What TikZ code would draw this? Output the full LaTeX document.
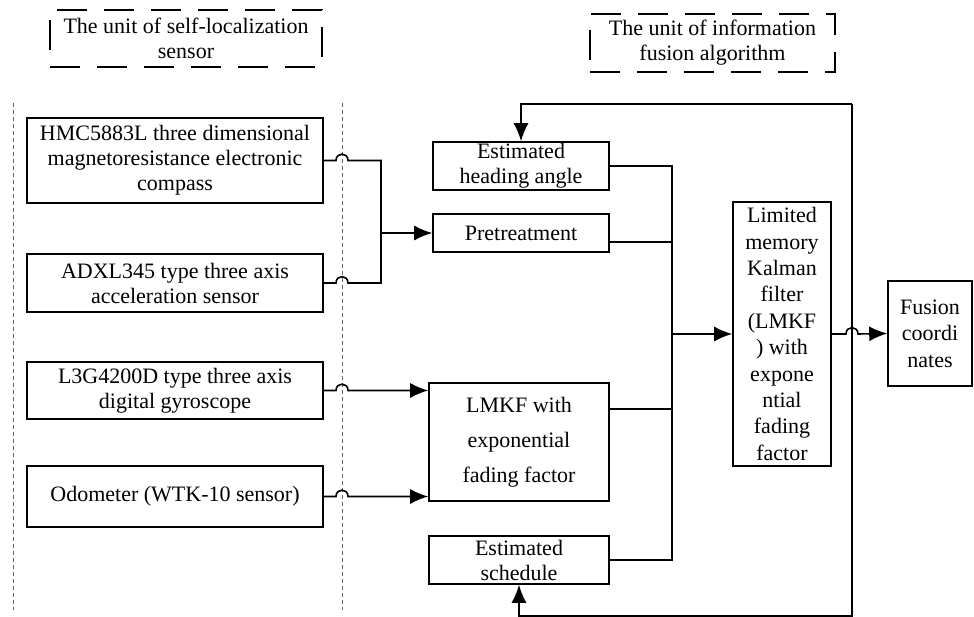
\documentclass[tikz,border=0pt]{standalone}
\usepackage{fontspec}
\setmainfont{Liberation Serif}
\usetikzlibrary{arrows.meta}
\begin{document}
\begin{tikzpicture}[x=1pt,y=-1pt,
  blk/.style={draw,line width=1.6pt,align=center,inner sep=0pt,font=\fontsize{22}{25}\selectfont},
  unit/.style={blk,line width=1.8pt,dash pattern=on 30pt off 17pt},
  lnk/.style={line width=1.6pt},
  arr/.style={lnk,-{Latex[length=18pt,width=15pt]}},
  sep/.style={gray!80!black,line width=1pt,dash pattern=on 4pt off 3pt}]
\useasboundingbox (0,0) rectangle (974,617);
%units
\node[unit,minimum width=272,minimum height=57](selfunit) at (186,38.5){The unit of self-localization\\sensor};
\node[unit,minimum width=245,minimum height=58](fusunit) at (712.5,43){The unit of information\\fusion algorithm};
\draw[sep](13,103)--(13,610);
\draw[sep](342,103)--(342,610);
%sensors
\node[blk,minimum width=296,minimum height=85](hmc) at (175,160.5){HMC5883L three dimensional\\magnetoresistance electronic\\compass};
\node[blk,minimum width=296,minimum height=58](adxl) at (175,283){ADXL345 type three axis\\acceleration sensor};
\node[blk,minimum width=296,minimum height=57](gyro) at (175,390.5){L3G4200D type three axis\\digital gyroscope};
\node[blk,minimum width=296,minimum height=61](odo) at (175,496.5){Odometer (WTK-10 sensor)};
%algorithm
\node[blk,minimum width=176,minimum height=48](head) at (521,166){Estimated\\heading angle};
\node[blk,minimum width=176,minimum height=38](pre) at (521,233){Pretreatment};
\node[blk,minimum width=180,minimum height=118,font=\fontsize{22}{35}\selectfont](lmkf) at (519,442){LMKF with\\exponential\\fading factor};
\node[blk,minimum width=180,minimum height=48](sched) at (519,560){Estimated\\schedule};
\node[blk,minimum width=98,minimum height=264,font=\fontsize{22}{26.4}\selectfont](kf) at (782,334){Limited\\memory\\Kalman\\filter\\(LMKF\\) with\\expone\\ntial\\fading\\factor};
\node[blk,minimum width=84,minimum height=105,font=\fontsize{22}{26.5}\selectfont](fusion) at (930,333.5){Fusion\\coordi\\nates};
\coordinate(jn) at (381,233);
\coordinate(bus) at (672,334);
\coordinate(fbTop) at (852,104);
\coordinate(fbBot) at (852,616);
%sensor links, hop over the separator
\draw[lnk](hmc.east)--(336,160.5) .. controls (336,152) and (348,152) .. (348,160.5)-|(jn);
\draw[lnk](adxl.east)--(336,283) .. controls (336,274.5) and (348,274.5) .. (348,283)-|(jn);
\draw[arr](jn)--(pre.west);
\draw[arr](gyro.east)--(336,390.5) .. controls (336,382) and (348,382) .. (348,390.5)--(lmkf.west|-gyro.east);
\draw[arr](odo.east)--(336,496.5) .. controls (336,488) and (348,488) .. (348,496.5)--(lmkf.west|-odo.east);
%bus
\draw[lnk](head.east)-|(bus)|-(sched.east);
\draw[lnk]([yshift=-9pt]pre.east)--([yshift=-9pt]pre.east-|bus);
\draw[lnk]([yshift=-27pt]lmkf.north east)--([yshift=-27pt]lmkf.north east-|bus);
\draw[arr](bus)--(kf.west);
\draw[arr](kf.east)--(846,334) .. controls (846,325.5) and (858,325.5) .. (858,334)--(fusion.west);
%feedback
\draw[arr](fbTop)-|(head.north);
\draw[arr](fbTop)--(fbBot)-|(sched.south);
\end{tikzpicture}
\end{document}
